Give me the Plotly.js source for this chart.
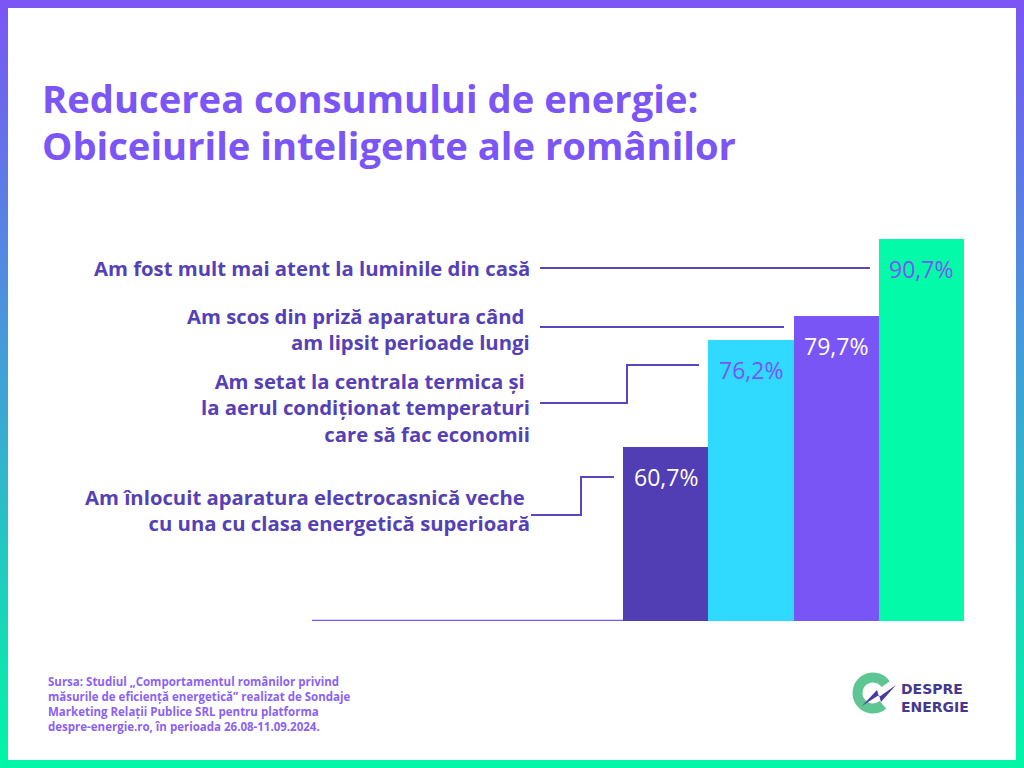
<!DOCTYPE html>
<html>
<head>
<meta charset="utf-8">
<script src="https://cdn.plot.ly/plotly-3.0.1.min.js"></script>
<style>
  html, body { margin: 0; padding: 0; }
  body { width: 1024px; height: 768px; position: relative; overflow: hidden;
         background: linear-gradient(to bottom, #7B55F5 0%, #3FA3D6 50%, #00F7A6 100%); }
  #frame { position: absolute; left: 8px; top: 8px; width: 1008px; height: 752px; background: #ffffff; }
  #chart { position: absolute; left: 0; top: 0; width: 1024px; height: 768px; }
  #logo { position: absolute; left: 0; top: 0; width: 1024px; height: 768px; pointer-events: none; }
</style>
</head>
<body>
<div id="frame"></div>
<svg id="logo" width="1024" height="768" viewBox="0 0 1024 768">
  <path d="M 885.7 684.1 A 15.5 15.5 0 1 0 883.0 704.9" fill="none" stroke="#5EC594" stroke-width="10"/>
  <polygon points="862,706 877,690 879,697 896,685 881,702 879,695" fill="#4B3A9E"/>
</svg>
<div id="chart"></div>
<script>
// ---- data ----
const categories = [
  "Am înlocuit aparatura electrocasnică veche\u00a0<br>cu una cu clasa energetică superioară",
  "Am setat la centrala termica și\u00a0<br>la aerul condiționat temperaturi<br>care să fac economii",
  "Am scos din priză aparatura când\u00a0<br>am lipsit perioade lungi",
  "Am fost mult mai atent la luminile din casă"
];
const values = [60.7, 76.2, 79.7, 90.7];
const valueLabels = ["60,7%", "76,2%", "79,7%", "90,7%"];
const titleLines = ["Reducerea consumului de energie:", "Obiceiurile inteligente ale românilor"];
const sourceLines = [
  "Sursa: Studiul „Comportamentul românilor privind",
  "măsurile de eficiență energetică” realizat de Sondaje",
  "Marketing Relații Publice SRL pentru platforma",
  "despre-energie.ro, în perioada 26.08-11.09.2024."
];
const logoLines = ["DESPRE", "ENERGIE"];

// ---- styles / layout ----
const barColors = ["#513DB4", "#30D9FE", "#7A55F5", "#03FAA8"];
const valueTextColors = ["#FFFFFF", "#7A55F5", "#FFFFFF", "#7A55F5"];
const W = 1024, H = 768, L = 312, R = 60, T = 230, B = 147;
const plotW = W - L - R, plotH = H - T - B;
function px(x) { return (x - L) / plotW; }
function py(y) { return (H - B - y) / plotH; }
const lineColor = "#5946BE";

const xs = values.map((v, i) => i);

const trace = {
  type: "bar",
  x: xs,
  y: values,
  width: 1,
  marker: { color: barColors, line: { width: 0 } },
  hoverinfo: "skip"
};

const annotations = [];
// value labels
values.forEach((v, i) => {
  annotations.push({
    x: xs[i], y: v, xref: "x", yref: "y",
    text: valueLabels[i], showarrow: false,
    yanchor: "middle", xanchor: "center", yshift: -30,
    font: { family: "Open Sans", size: 23, color: valueTextColors[i] }
  });
});
// category labels (right-aligned)
const labelCenters = [510, 407.5, 329, 268];
categories.forEach((c, i) => {
  annotations.push({
    x: px(532), y: py(labelCenters[i]), xref: "paper", yref: "paper",
    text: c, showarrow: false, xanchor: "right", yanchor: "middle", align: "right",
    font: { family: "Open Sans", size: 20.3, color: "#5541B5", weight: 700 }
  });
});
// title
titleLines.forEach((t, j) => {
  annotations.push({
    x: px(40), y: py(98 + j * 46.5), xref: "paper", yref: "paper",
    text: t, showarrow: false, xanchor: "left", yanchor: "middle",
    font: { family: "Open Sans", size: 38.2, color: "#7B55F5", weight: 700 }
  });
});
// source
annotations.push({
  x: px(46), y: py(704), xref: "paper", yref: "paper",
  text: sourceLines.join("<br>"), showarrow: false, xanchor: "left", yanchor: "middle", align: "left",
  font: { family: "Open Sans", size: 11.5, color: "#8B62F6", weight: 700 }
});
// logo text
annotations.push({
  x: px(899), y: py(698), xref: "paper", yref: "paper",
  text: logoLines.join("<br>"), showarrow: false, xanchor: "left", yanchor: "middle", align: "left",
  font: { family: "DejaVu Sans", size: 14, color: "#45388F", weight: 700 }
});

function pathFrom(pts) {
  return pts.map((p, k) => (k ? "L" : "M") + px(p[0]).toFixed(5) + "," + py(p[1]).toFixed(5)).join(" ");
}
const connectors = [
  [[540, 268], [870, 268]],
  [[540, 327], [784, 327]],
  [[540, 403], [627, 403], [627, 365], [699, 365]],
  [[531, 515], [581, 515], [581, 477], [614, 477]]
];
const shapes = connectors.map(pts => ({
  type: "path", xref: "paper", yref: "paper", path: pathFrom(pts),
  line: { color: lineColor, width: 2 }
}));
// baseline left of the bars
shapes.push({
  type: "line", xref: "paper", yref: "y", x0: 0, x1: px(623), y0: 35.6, y1: 35.6,
  line: { color: "#7B55F5", width: 2.5 }
});

const layout = {
  width: W, height: H,
  margin: { l: L, r: R, t: T, b: B, pad: 0 },
  paper_bgcolor: "rgba(0,0,0,0)",
  plot_bgcolor: "rgba(0,0,0,0)",
  showlegend: false,
  bargap: 0,
  xaxis: { range: [-4.148, 3.5], visible: false, fixedrange: true },
  yaxis: { range: [35.6, 92.07], visible: false, fixedrange: true },
  annotations: annotations,
  shapes: shapes
};

Plotly.newPlot("chart", [trace], layout, { displayModeBar: false, staticPlot: true });
</script>
</body>
</html>
